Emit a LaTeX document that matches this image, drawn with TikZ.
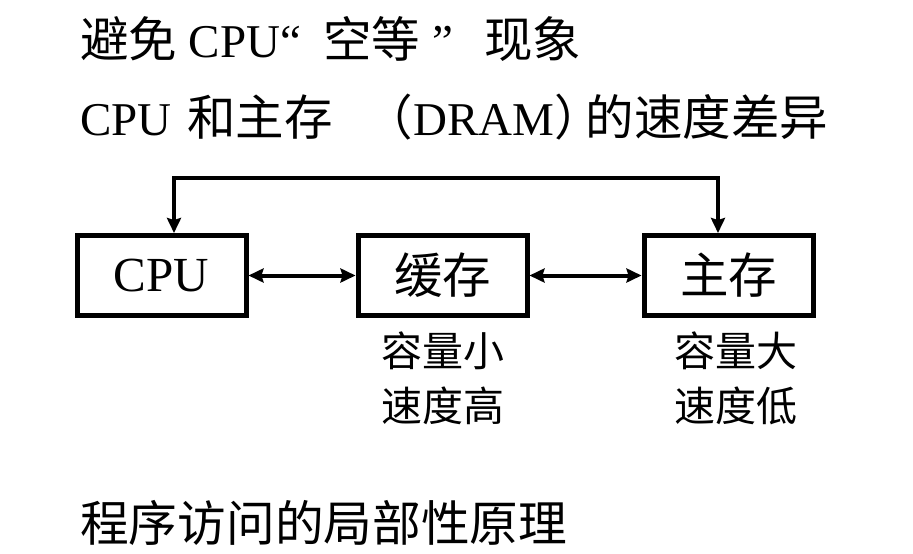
\documentclass[tikz,border=0pt]{standalone}
\usepackage{fontspec}
\setmainfont{Liberation Serif}
\newfontfamily\cjk{Noto Sans CJK SC}
\usetikzlibrary{arrows.meta}
% CJK runs inside Latin headings, set a little larger than the Latin text
\newcommand{\zh}[1]{{\cjk\fontsize{48.5}{58}\selectfont #1}}
\begin{document}
\begin{tikzpicture}[x=1pt,y=-1pt,
  unitbox/.style={draw, line width=5pt, minimum width=169pt, minimum height=80pt,
    inner sep=0pt, font=\fontsize{49}{58}\selectfont},
  link/.style={line width=4pt,
    {Stealth[length=15pt,width=14pt,inset=2pt]}-{Stealth[length=15pt,width=14pt,inset=2pt]}},
  heading/.style={anchor=base west, inner sep=0pt, font=\fontsize{47}{56}\selectfont},
  note/.style={anchor=north, inner sep=0pt, align=center, font=\cjk\fontsize{41}{55}\selectfont}
]
\useasboundingbox (0,0) rectangle (913,554);

% headings
\node[heading] (h1) at (80,57)
  {\zh{避免} CPU“\hspace{22pt}\zh{空等}\hspace{12pt}”\hspace{31pt}\zh{现象}};
\node[heading] (h2) at (80,135)
  {CPU\hspace{4pt} \zh{和主存}\hspace{32pt}\zh{（}DRAM\zh{）}\hspace{-17pt}\zh{的速度差异}};

% memory hierarchy
\node[unitbox] (cpu)   at (161.5,275.5) {CPU};
\node[unitbox] (cache) at (442.5,275.5) {\zh{缓存}};
\node[unitbox] (mem)   at (728.5,275.5) {\zh{主存}};

\draw[link] (cpu) -- (cache);
\draw[link] (cache) -- (mem);
\coordinate (bus) at (445,178);
\draw[link] ([xshift=12.5pt]cpu.north) |- (bus) -| ([xshift=-10.5pt]mem.north);

\node[note] (cachenote) at ([yshift=-14pt]cache.south) {容量小\\速度高};
\node[note] (memnote)   at ([xshift=7pt,yshift=-14pt]mem.south) {容量大\\速度低};

% footer
\node[anchor=base west, inner sep=0pt, font=\cjk\fontsize{48.7}{58}\selectfont] (h3)
  at (80,541) {程序访问的局部性原理};
\end{tikzpicture}
\end{document}
